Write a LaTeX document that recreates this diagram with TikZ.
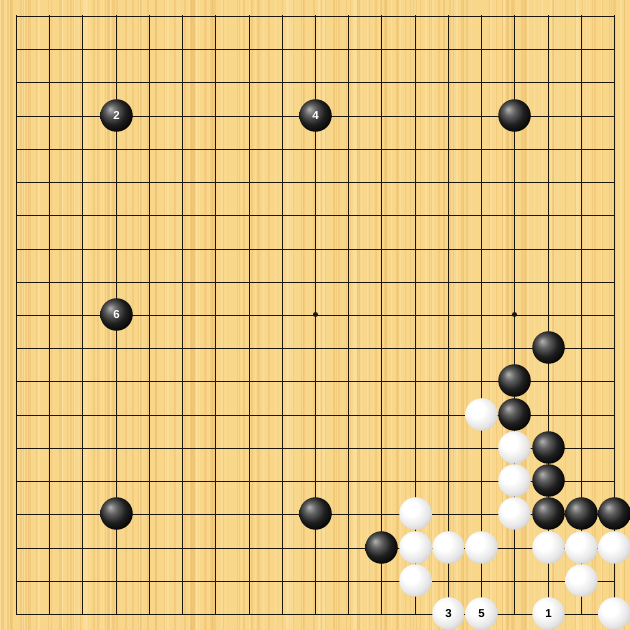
\documentclass[tikz,border=0pt]{standalone}
\usepackage{fontspec}
\setsansfont{Liberation Sans}
\definecolor{wood}{HTML}{F8D68A}
\definecolor{woodd}{HTML}{EEC271}
\definecolor{woodl}{HTML}{FCE3A3}
\definecolor{gridc}{HTML}{1C170C}
\pgfdeclareradialshading{wball}{\pgfpoint{-10bp}{10bp}}{color(0bp)=(white); color(12bp)=(white); color(24bp)=(white!91!black); color(34bp)=(white!78!black); color(44bp)=(white!66!black); color(50bp)=(white!60!black)}
\pgfdeclareradialshading{bball}{\pgfpoint{-10bp}{10bp}}{color(0bp)=(black!30); color(9bp)=(black!62); color(20bp)=(black!88); color(32bp)=(black); color(50bp)=(black)}
\begin{document}
\begin{tikzpicture}[x=1pt,y=1pt,
  stonebase/.style={circle,minimum size=32.5pt,inner sep=0pt,
    font=\sffamily\bfseries\fontsize{11.5}{12}\selectfont},
  bstone/.style={stonebase,shading=bball,text=white},
  wstone/.style={stonebase,shading=wball,text=black},
  gridline/.style={draw=gridc,line width=1pt},
  starpt/.style={circle,fill=gridc,inner sep=0pt,minimum size=5pt}]
\useasboundingbox (0,0) rectangle (630,630);
\clip (0,0) rectangle (630,630);
\fill[wood] (0,0) rectangle (630,630);
\pgfmathsetseed{11}
\foreach \k in {1,...,170}{
  \pgfmathsetmacro\xx{rnd*630}
  \pgfmathsetmacro\ww{0.6+rnd*1.8}
  \fill[woodd,opacity=0.55] (\xx,0) rectangle ++(\ww,630);
}
\foreach \k in {1,...,90}{
  \pgfmathsetmacro\xx{rnd*630}
  \pgfmathsetmacro\ww{0.6+rnd*1.5}
  \fill[woodl,opacity=0.6] (\xx,0) rectangle ++(\ww,630);
}
% grid (pixel aligned)
\foreach \i in {0,...,18}{
  \pgfmathsetmacro\p{floor(16+33.222*\i+0.5)+0.5}
  \draw[gridline] (\p,15.5) -- (\p,614.5);
  \draw[gridline] (15.5,630-\p) -- (614.5,630-\p);
}
\newcommand{\px}[1]{floor(16+33.222*#1+0.5)+0.5}
% star points
\foreach \i in {3,9,15}{
  \foreach \j in {3,9,15}{
    \node[starpt] (star-\i-\j) at ({\px{\i}},{630-\px{\j}}) {};
  }
}
\newcommand{\placestone}[4]{\node[#1] (s-#2-#3) at ({\px{#2}},{630-\px{#3}}) {#4};}
% black stones
\placestone{bstone}{3}{3}{2}
\placestone{bstone}{9}{3}{4}
\placestone{bstone}{15}{3}{}
\placestone{bstone}{3}{9}{6}
\placestone{bstone}{16}{10}{}
\placestone{bstone}{15}{11}{}
\placestone{bstone}{15}{12}{}
\placestone{bstone}{16}{13}{}
\placestone{bstone}{16}{14}{}
\placestone{bstone}{3}{15}{}
\placestone{bstone}{9}{15}{}
\placestone{bstone}{16}{15}{}
\placestone{bstone}{17}{15}{}
\placestone{bstone}{18}{15}{}
\placestone{bstone}{11}{16}{}
% white stones
\placestone{wstone}{14}{12}{}
\placestone{wstone}{15}{13}{}
\placestone{wstone}{15}{14}{}
\placestone{wstone}{15}{15}{}
\placestone{wstone}{12}{15}{}
\placestone{wstone}{12}{16}{}
\placestone{wstone}{13}{16}{}
\placestone{wstone}{14}{16}{}
\placestone{wstone}{16}{16}{}
\placestone{wstone}{17}{16}{}
\placestone{wstone}{18}{16}{}
\placestone{wstone}{12}{17}{}
\placestone{wstone}{17}{17}{}
\placestone{wstone}{13}{18}{3}
\placestone{wstone}{14}{18}{5}
\placestone{wstone}{16}{18}{1}
\placestone{wstone}{18}{18}{}
\end{tikzpicture}
\end{document}
